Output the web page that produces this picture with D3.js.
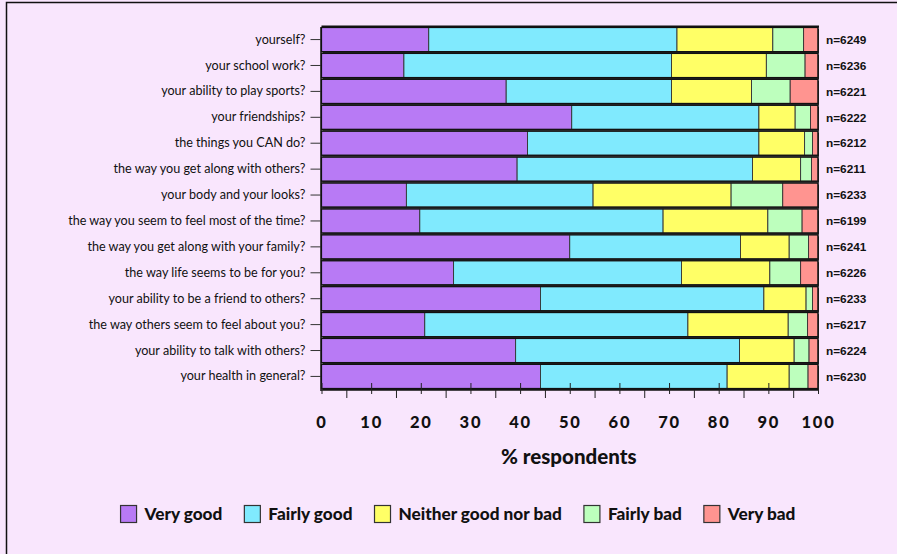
<!DOCTYPE html>
<html><head><meta charset="utf-8">
<script src="https://cdn.jsdelivr.net/npm/d3@7"></script>
<style>
html,body{margin:0;padding:0;background:#f9e6fd;overflow:hidden;}
svg{display:block;}
</style></head>
<body>
<svg id="chart" width="897" height="554"></svg>
<script>
const categories = [
  "yourself?",
  "your school work?",
  "your ability to play sports?",
  "your friendships?",
  "the things you CAN do?",
  "the way you get along with others?",
  "your body and your looks?",
  "the way you seem to feel most of the time?",
  "the way you get along with your family?",
  "the way life seems to be for you?",
  "your ability to be a friend to others?",
  "the way others seem to feel about you?",
  "your ability to talk with others?",
  "your health in general?"
];
const nLabels = ["n=6249","n=6236","n=6221","n=6222","n=6212","n=6211","n=6233","n=6199","n=6241","n=6226","n=6233","n=6217","n=6224","n=6230"];
const seriesNames = ["Very good","Fairly good","Neither good nor bad","Fairly bad","Very bad"];
const veryGood    = [21.6,16.6,37.2,50.4,41.5,39.4,17.1,19.8,50.0,26.6,44.1,20.8,39.1,44.1];
const fairlyGood  = [50.0,53.9,33.3,37.7,46.6,47.4,37.6,49.0,34.4,45.9,45.0,53.0,45.1,37.6];
const neither     = [19.3,19.1,16.1, 7.3, 9.2, 9.7,27.8,21.1, 9.8,17.8, 8.5,20.2,11.0,12.5];
const fairlyBad   = [ 6.2, 7.8, 7.8, 3.1, 1.6, 2.2,10.4, 6.9, 3.9, 6.2, 1.3, 3.9, 3.0, 3.8];
const veryBad     = [ 2.9, 2.6, 5.6, 1.5, 1.1, 1.3, 7.1, 3.2, 1.9, 3.5, 1.1, 2.1, 1.8, 2.0];
const xTicks = [0,10,20,30,40,50,60,70,80,90,100];
const xMinorTicks = [5,15,25,35,45,55,65,75,85,95];
const colors = ["#b87af5","#80eafe","#ffff66","#bdffbd","#ff9490"];

(function(){
const svg = d3.select("#chart");
const pL = 321.5, pR = 818, pT = 27, pB = 389;
const lblFont = "Lato, 'Open Sans', sans-serif";

svg.append("path").attr("d","M6.5,560 L6.5,2.5 L900,2.5")
  .attr("fill","none").attr("stroke","#111").attr("stroke-width",1.5);

const x = d3.scaleLinear().domain([0,100]).range([pL,pR]);
const y = d3.scaleBand().domain(categories).range([pT,pB]).paddingInner(0.07).paddingOuter(0.02);

const series = [veryGood,fairlyGood,neither,fairlyBad,veryBad];
const rows = categories.map((c,i)=>{
  const vals = series.map(s=>s[i]);
  const tot = d3.sum(vals);
  let acc = 0;
  return {cat:c, n:nLabels[i], segs: vals.map((v,k)=>{const s={k, x0:acc/tot*100, x1:(acc+v)/tot*100}; acc+=v; return s;})};
});

svg.append("rect").attr("x",pL).attr("y",pT).attr("width",pR-pL).attr("height",pB-pT)
  .attr("fill","#f3eef5");

const g = svg.append("g");
const rowG = g.selectAll("g.row").data(rows).join("g").attr("class","row");
rowG.append("rect")
  .attr("x",x(0)+1).attr("y",d=>y(d.cat)+1.5)
  .attr("width",x(100)-x(0)).attr("height",y.bandwidth())
  .attr("fill","#222");
rowG.selectAll("rect.seg").data(d=>d.segs.map(s=>Object.assign({cat:d.cat},s))).join("rect")
  .attr("class","seg")
  .attr("x",d=>x(d.x0)).attr("y",d=>y(d.cat))
  .attr("width",d=>x(d.x1)-x(d.x0)).attr("height",y.bandwidth())
  .attr("fill",d=>colors[d.k]).attr("stroke","#333").attr("stroke-width",0.9);
rowG.append("rect")
  .attr("x",x(0)).attr("y",d=>y(d.cat))
  .attr("width",x(100)-x(0)).attr("height",y.bandwidth())
  .attr("fill","none").attr("stroke","#111").attr("stroke-width",1.2);

svg.append("line").attr("x1",pL).attr("x2",pR+1).attr("y1",pT-0.5).attr("y2",pT-0.5)
  .attr("stroke","#111").attr("stroke-width",2);

const yAxis = d3.axisLeft(y).tickSize(10).tickPadding(5);
const yg = svg.append("g").attr("transform",`translate(${pL-1},0)`).call(yAxis);
yg.select(".domain").remove();
yg.selectAll(".tick line").attr("stroke","#333");
yg.selectAll("text").attr("font-family",lblFont).attr("font-size","12.6px").attr("fill","#111");
svg.append("line").attr("x1",pL-0.5).attr("x2",pL-0.5).attr("y1",pT).attr("y2",pB+2).attr("stroke","#111").attr("stroke-width",1.5);

svg.append("g").selectAll("text").data(rows).join("text")
  .attr("x",826).attr("y",d=>y(d.cat)+y.bandwidth()/2).attr("dy","0.36em")
  .attr("font-family","'Liberation Sans', Arial, sans-serif").attr("font-weight","bold")
  .attr("font-size","11.8px").attr("fill","#111").text(d=>d.n);

const axY = 390;
svg.append("line").attr("x1",pL).attr("x2",pR).attr("y1",axY).attr("y2",axY).attr("stroke","#111").attr("stroke-width",1.3);
const xg = svg.append("g").attr("transform",`translate(0,${axY})`)
  .call(d3.axisBottom(x).tickValues(xTicks).tickSize(4).tickPadding(22));
xg.select(".domain").remove();
xg.selectAll(".tick line").attr("y1",-7).attr("y2",4).attr("stroke","#222");
xg.selectAll("text").attr("font-family",lblFont).attr("font-weight","900").attr("font-size","16.5px").attr("fill","#111")
  .attr("letter-spacing","1.8px");
const xm = svg.append("g").attr("transform",`translate(0,${axY})`)
  .call(d3.axisBottom(x).tickValues(xMinorTicks).tickSize(8).tickFormat(""));
xm.select(".domain").remove();
xm.selectAll(".tick line").attr("stroke","#222");

svg.append("text").attr("x",(pL+pR)/2 - 1).attr("y",464).attr("text-anchor","middle")
  .attr("font-family",lblFont).attr("font-weight","900").attr("font-size","20.5px").attr("fill","#111")
  .text("% respondents");

const leg = svg.append("g");
const items = leg.selectAll("g").data(seriesNames).join("g");
items.append("rect").attr("width",16).attr("height",17).attr("y",-8.5)
  .attr("fill",(d,i)=>colors[i]).attr("stroke","#333").attr("stroke-width",1.2);
items.append("text").attr("x",24).attr("dy","0.35em")
  .attr("font-family",lblFont).attr("font-weight","900").attr("font-size","17.2px").attr("fill","#111")
  .text(d=>d);
let cx = 0;
const pos = [];
items.each(function(d){
  const w = d3.select(this).select("text").node().getComputedTextLength();
  pos.push(cx); cx += 24 + w + 22;
});
const total = cx - 22;
const startX = 458 - total/2;
items.attr("transform",(d,i)=>`translate(${startX+pos[i]},514)`);
})();
</script>
</body></html>
